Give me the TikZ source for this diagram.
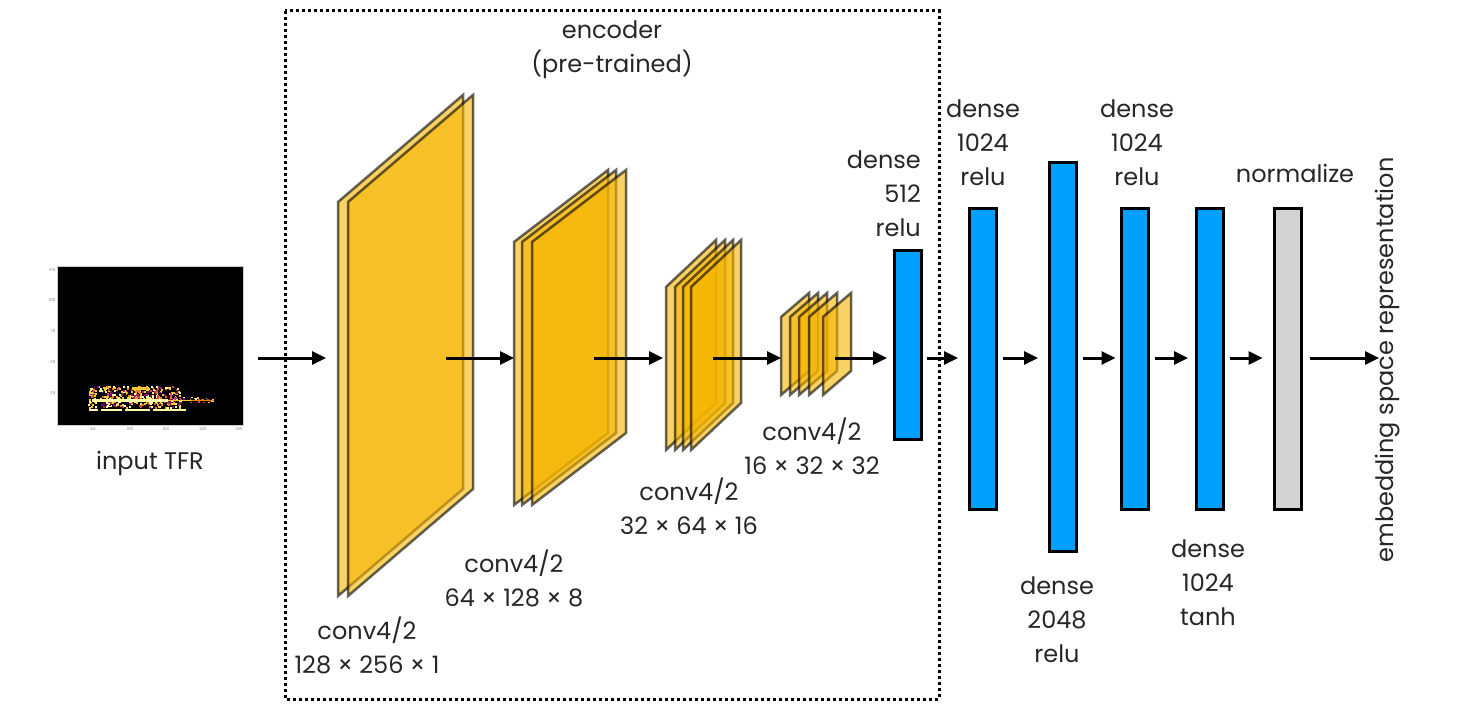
\documentclass[tikz,border=0pt]{standalone}
\usepackage{fontspec}
\setmainfont{Poppins}
\usetikzlibrary{arrows.meta}
\definecolor{fmapfill}{RGB}{245,180,0}
\definecolor{densefill}{RGB}{0,160,255}
\definecolor{normfill}{RGB}{211,211,211}
\definecolor{infY}{RGB}{252,255,164}
\definecolor{infG}{RGB}{249,201,50}
\definecolor{infO}{RGB}{245,125,21}
\definecolor{infR}{RGB}{212,72,66}
\definecolor{infP}{RGB}{159,42,99}
\definecolor{infD}{RGB}{101,21,110}
\tikzset{
  fmap/.style={fill=fmapfill, fill opacity=.6, draw=black, draw opacity=.6, line width=2.5pt, line join=miter},
  densebox/.style={draw=black, fill=densefill, line width=3pt, minimum width=27pt, inner sep=0pt},
  normbox/.style={densebox, fill=normfill},
  lbl/.style={font=\fontsize{24}{34}\selectfont, align=center, text=black!85, inner sep=0pt},
  tick/.style={font=\fontsize{4}{5}\selectfont, text=black!50, inner sep=.5pt},
  flow/.style={->, line width=3pt}
}
\pgfmathdeclarerandomlist{inferno}{{infY}{infG}{infO}{infR}{infP}{infD}{infY}{infG}{black}}
\begin{document}
\begin{tikzpicture}[x=1pt,y=-1pt,>={Triangle[length=14pt,width=13pt]}]
  \useasboundingbox (0,0) rectangle (1465,709);
  % input TFR
  \fill[black] (57,266) rectangle (243,425);
  \draw[black!20, line width=.5pt] (57,266) rectangle (243,425);
  \foreach \v/\y in {125/270,100/300,75/331,50/362,25/393}
    \node[tick, anchor=east] at (56,\y) {\v};
  \foreach \v/\x in {50/93,100/130,150/166,200/203,250/239}
    \node[tick, anchor=north] at (\x,427) {\v};
  \pgfmathsetseed{11}
  \foreach \i in {1,...,420}{
    \pgfmathsetmacro\bx{88+92*rnd}
    \pgfmathsetmacro\by{386+21*rnd}
    \pgfmathrandomitem\bc{inferno}
    \fill[\bc] (\bx,\by) rectangle ++(2,2);
  }
  \foreach \i in {1,...,60}{
    \pgfmathsetmacro\bx{150+62*rnd}
    \pgfmathsetmacro\by{397+5*rnd}
    \pgfmathrandomitem\bc{inferno}
    \fill[\bc] (\bx,\by) rectangle ++(2,1.5);
  }
  \fill[infY] (92,399) rectangle (168,401.5);
  \fill[infG] (168,399.5) rectangle (192,401);
  \fill[infO] (192,399.5) rectangle (214,401);
  \foreach \a/\b in {89/98,101/122,125/150,153/186}
    \fill[infY] (\a,409) rectangle (\b,411);
  \fill[infG] (132,387) rectangle (146,389.5);
  \node[lbl] (tfrlbl) at (150,463) {input TFR};
  % encoder
  \draw[line width=3pt, dash pattern=on 3pt off 3pt] (285,11) rectangle (939,699);
  \node[lbl] (enclbl) at (612,50) {encoder\\(pre-trained)};
  \def\planeA{-- ++(125,-107) -- ++(0,394) -- ++(-125,107) -- cycle}
  \def\planeB{-- ++(94,-72) -- ++(0,263) -- ++(-94,72) -- cycle}
  \def\planeC{-- ++(50,-47) -- ++(0,163) -- ++(-50,47) -- cycle}
  \def\planeD{-- ++(28,-24) -- ++(0,78) -- ++(-28,24) -- cycle}
  \foreach \x in {338,348} \draw[fmap] (\x,202) \planeA;
  \foreach \x in {514,522,532} \draw[fmap] (\x,242) \planeB;
  \foreach \x in {666,675,683,691} \draw[fmap] (\x,287) \planeC;
  \foreach \x in {781,790,799,809,823} \draw[fmap] (\x,317) \planeD;
  \node[lbl] (convAlbl) at (367,645) {conv4/2\\128 × 256 × 1};
  \node[lbl] (convBlbl) at (514,578) {conv4/2\\64 × 128 × 8};
  \node[lbl] (convClbl) at (689,506) {conv4/2\\32 × 64 × 16};
  \node[lbl] (convDlbl) at (812,446) {conv4/2\\16 × 32 × 32};
  \coordinate (tfrout) at (258,358);
  \coordinate (convAin) at (326,358);
  \coordinate (convAout) at (446,358);
  \coordinate (convBin) at (514,358);
  \coordinate (convBout) at (594,358);
  \coordinate (convCin) at (663,358);
  \coordinate (convCout) at (713,358);
  \coordinate (convDin) at (781,358);
  \coordinate (convDout) at (835,358);
  % dense head
  \node[densebox, minimum height=189pt] (denseA) at (908,345) {};
  \node[densebox, minimum height=301pt] (denseB) at (983,359) {};
  \node[densebox, minimum height=389pt] (denseC) at (1063,357) {};
  \node[densebox, minimum height=301pt] (denseD) at (1134.5,359) {};
  \node[densebox, minimum height=301pt] (denseE) at (1210,359) {};
  \node[normbox, minimum height=301pt] (norm) at (1287.5,359) {};
  \coordinate (emb) at (1379,358);
  \node[lbl, align=right, anchor=east] (denseAlbl) at (921,194) {dense\\512\\relu};
  \node[lbl] (denseBlbl) at (983,143) {dense\\1024\\relu};
  \node[lbl] (denseClbl) at (1057,620) {dense\\2048\\relu};
  \node[lbl] (denseDlbl) at (1137,143) {dense\\1024\\relu};
  \node[lbl] (denseElbl) at (1208,583) {dense\\1024\\tanh};
  \node[lbl] (normlbl) at (1295,173) {normalize};
  \node[lbl, rotate=90] (emblbl) at (1388,360) {embedding space representation};
  % arrows
  \draw[flow] (tfrout) -- (convAin);
  \draw[flow] (convAout) -- (convBin);
  \draw[flow] (convBout) -- (convCin);
  \draw[flow] (convCout) -- (convDin);
  \draw[flow, shorten >=6pt] (convDout) -- (denseA.west |- convDout);
  \draw[flow, shorten <=4pt, shorten >=10pt] (denseA.east |- convDout) -- (denseB.west |- convDout);
  \draw[flow, shorten <=5pt, shorten >=10pt] (denseB.east |- convDout) -- (denseC.west |- convDout);
  \draw[flow, shorten <=5pt, shorten >=4pt] (denseC.east |- convDout) -- (denseD.west |- convDout);
  \draw[flow, shorten <=5pt, shorten >=7pt] (denseD.east |- convDout) -- (denseE.west |- convDout);
  \draw[flow, shorten <=5pt, shorten >=10pt] (denseE.east |- convDout) -- (norm.west |- convDout);
  \draw[flow, shorten <=7pt] (norm.east |- convDout) -- (emb);
\end{tikzpicture}
\end{document}
